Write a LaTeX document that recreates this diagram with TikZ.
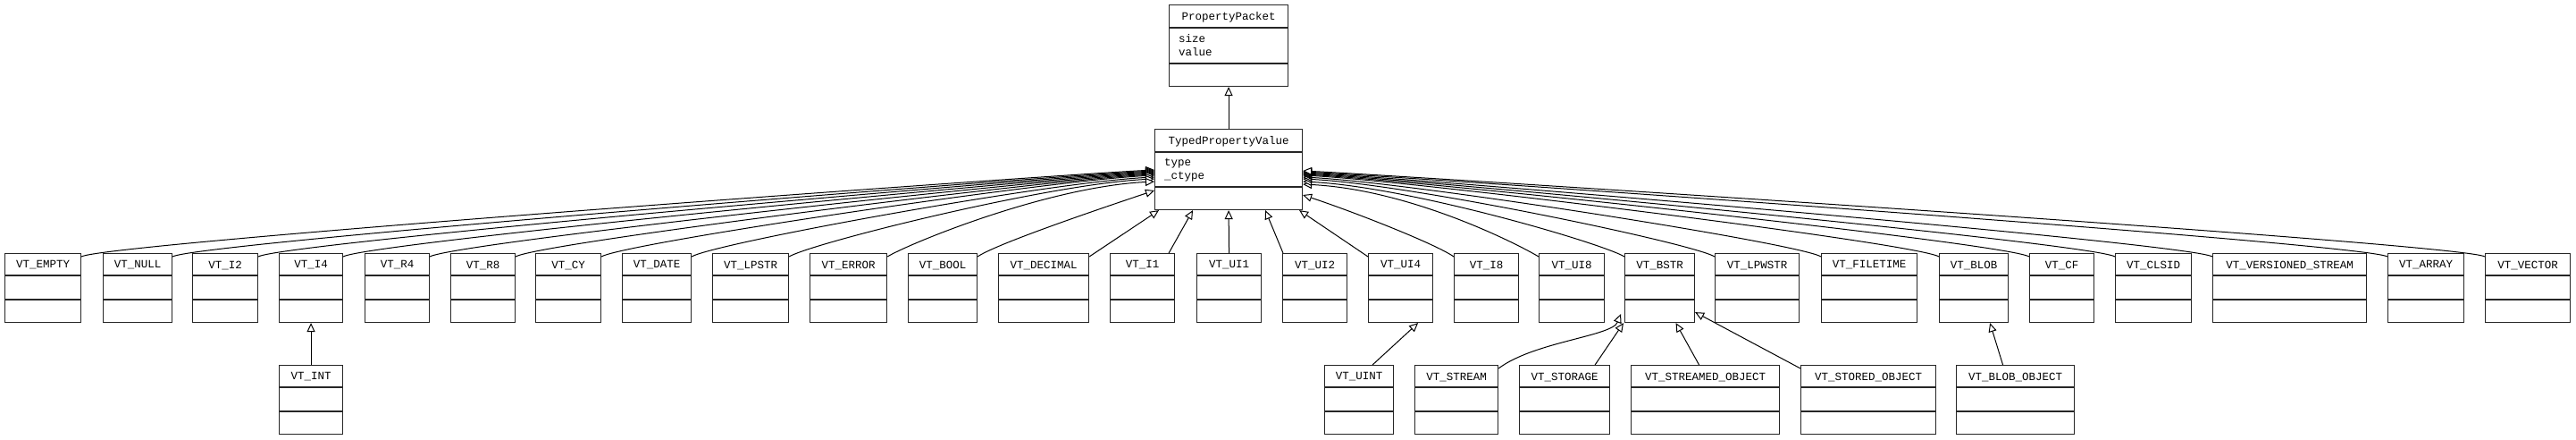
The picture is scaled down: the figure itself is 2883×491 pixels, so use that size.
\documentclass[tikz,border=0pt]{standalone}
\usepackage{fontspec}
\setmainfont{Liberation Mono}
\usetikzlibrary{arrows.meta,calc}
\tikzset{
  cls/.style={draw=black!85, line width=1.1pt, inner sep=0pt, anchor=north west},
  ttl/.style={font=\fontsize{12.5}{15}\selectfont, inner sep=0pt},
  gen/.style={draw=black, line width=1pt, -{Triangle[open,length=10pt,width=9pt,fill=white]}},
}
% name, x1, x2, y1, h, d1, d2, title
\newcommand\umlcls[8]{%
  \node[cls, minimum width={(#3-#2)*1pt}, minimum height={#5*1pt}] (#1) at (#2,#4) {};
  \draw[black!85, line width=1.1pt] ($(#1.north west)+(0,#6)$) -- ($(#1.north east)+(0,#6)$);
  \draw[black!85, line width=1.1pt] ($(#1.north west)+(0,#7)$) -- ($(#1.north east)+(0,#7)$);
  \node[ttl] (#1-t) at ($(#1.north)+(0,#6/2+1)$) {#8};
}
\newcommand\rowcls[4]{\umlcls{#1}{#2}{#3}{283}{77}{25}{52}{#4}}
\newcommand\lowcls[4]{\umlcls{#1}{#2}{#3}{408}{77}{25}{52}{#4}}
\newcommand\ledge[2]{\draw[gen] ([yshift=-4pt]#1.north east) .. controls +(25,-15) and +(-120,6) .. ($(tpv.north west)+(0,#2)$);}
\newcommand\redge[2]{\draw[gen] ([yshift=-4pt]#1.north west) .. controls +(-25,-15) and +(120,6) .. ($(tpv.north east)+(0,#2)$);}
\begin{document}
\begin{tikzpicture}[x=1pt,y=-1pt]
\useasboundingbox[fill=white] (0,0) rectangle (2883,491);
\umlcls{pp}{1308}{1441}{5}{91}{26}{66}{PropertyPacket}
\node[ttl, anchor=north west, align=left] (ppa) at (1319,38) {size\\value};
\umlcls{tpv}{1292}{1457}{144}{90}{26}{65}{TypedPropertyValue}
\node[ttl, anchor=north west, align=left] (tpva) at (1303,177) {type\\\_ctype};
\draw[gen] (tpv.north) -- (pp.south);

\rowcls{empty}{5}{90}{VT\_EMPTY}
\rowcls{null}{115}{192}{VT\_NULL}
\rowcls{itwo}{215}{288}{VT\_I2}
\rowcls{ifour}{312}{383}{VT\_I4}
\rowcls{rfour}{408}{480}{VT\_R4}
\rowcls{reight}{504}{576}{VT\_R8}
\rowcls{cy}{599}{672}{VT\_CY}
\rowcls{date}{696}{773}{VT\_DATE}
\rowcls{lpstr}{797}{882}{VT\_LPSTR}
\rowcls{error}{906}{992}{VT\_ERROR}
\rowcls{bool}{1016}{1093}{VT\_BOOL}
\rowcls{decimal}{1117}{1218}{VT\_DECIMAL}
\rowcls{ione}{1242}{1314}{VT\_I1}
\rowcls{uione}{1339}{1411}{VT\_UI1}
\rowcls{uitwo}{1435}{1507}{VT\_UI2}
\rowcls{uifour}{1531}{1603}{VT\_UI4}
\rowcls{ieight}{1627}{1699}{VT\_I8}
\rowcls{uieight}{1722}{1795}{VT\_UI8}
\rowcls{bstr}{1818}{1896}{VT\_BSTR}
\rowcls{lpwstr}{1919}{2013}{VT\_LPWSTR}
\rowcls{filetime}{2038}{2145}{VT\_FILETIME}
\rowcls{blob}{2170}{2247}{VT\_BLOB}
\rowcls{cf}{2271}{2343}{VT\_CF}
\rowcls{clsid}{2367}{2452}{VT\_CLSID}
\rowcls{vstream}{2476}{2648}{VT\_VERSIONED\_STREAM}
\rowcls{array}{2672}{2757}{VT\_ARRAY}
\rowcls{vector}{2781}{2876}{VT\_VECTOR}

\lowcls{int}{312}{383}{VT\_INT}
\lowcls{uint}{1482}{1559}{VT\_UINT}
\lowcls{stream}{1583}{1676}{VT\_STREAM}
\lowcls{storage}{1700}{1801}{VT\_STORAGE}
\lowcls{streamed}{1825}{1991}{VT\_STREAMED\_OBJECT}
\lowcls{stored}{2015}{2166}{VT\_STORED\_OBJECT}
\lowcls{blobobj}{2189}{2321}{VT\_BLOB\_OBJECT}

\ledge{empty}{46}
\ledge{null}{47}
\ledge{itwo}{48}
\ledge{ifour}{49}
\ledge{rfour}{50}
\ledge{reight}{51}
\ledge{cy}{52}
\ledge{date}{54}
\ledge{lpstr}{56}
\ledge{error}{59}
\draw[gen] ([yshift=-4pt]bool.north east) .. controls +(20,-14) and +(-60,20) .. ($(tpv.north west)+(0,69)$);
\draw[gen] ([yshift=-4pt]decimal.north east) -- ($(tpv.south west)+(5,0)$);
\draw[gen] ([xshift=-7pt]ione.north east) -- ($(tpv.south west)+(43,0)$);
\draw[gen] (uione.north) -- (tpv.south);
\draw[gen] ([xshift=1pt]uitwo.north west) -- ($(tpv.south east)+(-42,0)$);
\draw[gen] ([yshift=-4pt]uifour.north west) -- ($(tpv.south east)+(-4,0)$);
\draw[gen] ([yshift=-4pt]ieight.north west) .. controls +(-20,-14) and +(60,20) .. ($(tpv.north east)+(0,74)$);
\redge{uieight}{62}
\redge{bstr}{59}
\redge{lpwstr}{56}
\redge{filetime}{54}
\redge{blob}{52}
\redge{cf}{51}
\redge{clsid}{50}
\redge{vstream}{49}
\redge{array}{48}
\redge{vector}{47}

\draw[gen] (int.north) -- (ifour.south);
\draw[gen] ([xshift=15pt]uint.north) -- ([xshift=-17pt]uifour.south east);
\draw[gen] ([yshift=-4pt]stream.north east) .. controls +(40,-30) and +(-10,25) .. ([xshift=-4pt,yshift=10pt]bstr.south west);
\draw[gen] ([xshift=-17pt]storage.north east) -- ([xshift=-1pt]bstr.south west);
\draw[gen] ([xshift=-7pt]streamed.north) -- ([xshift=18pt]bstr.south);
\draw[gen] ([yshift=-4pt]stored.north west) -- ([yshift=12pt]bstr.south east);
\draw[gen] ([xshift=-14pt]blobobj.north) -- ([xshift=-21pt]blob.south east);
\end{tikzpicture}
\end{document}
